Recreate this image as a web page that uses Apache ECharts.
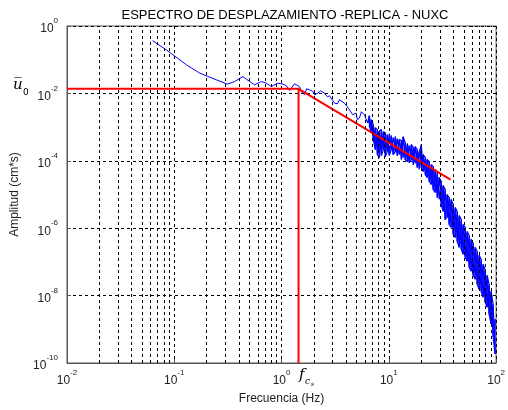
<!DOCTYPE html>
<html>
<head>
<meta charset="utf-8">
<script src="https://cdn.jsdelivr.net/npm/echarts@6/dist/echarts.min.js"></script>
<style>
  html, body { margin: 0; padding: 0; background: #fff; }
  #chart { width: 508px; height: 410px; }
</style>
</head>
<body>
<div id="chart"></div>
<script>
// Espectro de desplazamiento (replica, estacion NUXC)
var titleText = "ESPECTRO DE DESPLAZAMIENTO -REPLICA - NUXC";
var xName = "Frecuencia (Hz)";
var yName = "Amplitud (cm*s)";

// tramo suave / poco ruidoso del espectro (Hz, cm*s)
var freqLow = [0.0627, 0.0846, 0.130, 0.173, 0.199, 0.247, 0.313, 0.365, 0.436, 0.504,
  0.561, 0.647, 0.721, 0.802, 0.924, 1.03, 1.11, 1.19, 1.24, 1.32,
  1.38, 1.47, 1.53, 1.64, 1.71, 1.82, 1.96, 2.03, 2.18, 2.31,
  2.51, 2.68, 2.80, 2.92, 3.11, 3.32, 3.46, 3.61, 3.85, 4.11,
  4.29, 4.61, 4.95, 5.09, 5.32, 5.55, 5.92, 6.14, 6.35];
var ampLow = [0.367, 0.195, 0.0702, 0.0399, 0.0332, 0.0253, 0.0188, 0.0225, 0.0316, 0.0225,
  0.0180, 0.0225, 0.0202, 0.0160, 0.0202, 0.0188, 0.0168, 0.0122, 0.0147, 0.0192,
  0.0180, 0.0160, 0.0112, 0.0091, 0.0137, 0.0128, 0.0114, 0.0091, 0.0102, 0.0119,
  0.0102, 0.0079, 0.0085, 0.0097, 0.00516, 0.00492, 0.00647, 0.00692, 0.00516, 0.00401,
  0.00367, 0.00233, 0.00261, 0.00166, 0.00186, 0.00286, 0.00233, 0.00261, 0.00132];

// tramo ruidoso: picos superior e inferior en cada frecuencia
var freqHigh = [6.59, 6.88, 7.17, 7.49, 7.82, 8.16, 8.52, 8.89, 9.28, 9.68,
  10.1, 10.55, 11.0, 11.5, 12.0, 12.5, 13.1, 13.6, 14.2, 14.9,
  15.5, 16.2, 16.9, 17.6, 18.4, 19.2, 20.1, 20.9, 21.9, 22.8,
  23.8, 24.9, 25.9, 27.1, 28.3, 29.5, 30.8, 32.1, 33.5, 35.0,
  36.5, 38.1, 39.8, 41.6, 43.4, 45.3, 47.3, 49.3, 51.5, 53.7,
  56.1, 58.5, 61.1, 63.8, 66.6, 69.5, 72.5, 75.7, 79.0, 82.5,
  86.1, 89.8, 93.8, 97.9];
var ampHighTop = [2.17e-3, 1.66e-3, 1.18e-3, 9.6e-4, 8.4e-4, 7.8e-4, 8.4e-4, 7.3e-4, 6.8e-4, 5.96e-4,
  6.4e-4, 5.57e-4, 4.86e-4, 5.2e-4, 4.54e-4, 4.24e-4, 3.96e-4, 5.2e-4, 3.45e-4, 3.23e-4,
  2.82e-4, 3.01e-4, 2.46e-4, 2.63e-4, 2.14e-4, 1.87e-4, 3.01e-4, 1.53e-4, 1.24e-4, 1.09e-4,
  9.5e-5, 7.7e-5, 6.7e-5, 5.5e-5, 4.5e-5, 3.18e-5, 2.43e-5, 1.85e-5, 1.41e-5, 1.0e-5,
  8.1e-6, 7.1e-6, 5.06e-6, 4.12e-6, 3.14e-6, 2.39e-6, 1.82e-6, 1.29e-6, 1.06e-6, 8.0e-7,
  6.1e-7, 4.67e-7, 3.55e-7, 2.7e-7, 2.06e-7, 1.57e-7, 1.19e-7, 8.5e-8, 6.0e-8, 4.0e-8,
  2.17e-8, 1.35e-8, 5.6e-9, 2.0e-9];
var ampHighBottom = [1.03e-3, 6.8e-4, 4.24e-4, 2.14e-4, 1.53e-4, 1.24e-4, 1.43e-4, 2.14e-4, 1.33e-4, 1.87e-4,
  1.43e-4, 2.14e-4, 1.53e-4, 1.87e-4, 1.43e-4, 1.53e-4, 1.09e-4, 1.24e-4, 1.09e-4, 9.5e-5,
  8.85e-5, 1.09e-4, 7.7e-5, 8.3e-5, 6.3e-5, 5.5e-5, 6.3e-5, 4.8e-5, 3.9e-5, 3.18e-5,
  2.43e-5, 1.98e-5, 1.41e-5, 1.15e-5, 8.1e-6, 7.1e-6, 5.06e-6, 3.14e-6, 1.82e-6, 2.09e-6,
  1.29e-6, 1.06e-6, 6.6e-7, 5.3e-7, 4.07e-7, 2.7e-7, 2.36e-7, 1.68e-7, 1.37e-7, 1.04e-7,
  6.9e-8, 5.3e-8, 4.0e-8, 3.05e-8, 2.17e-8, 1.55e-8, 1.35e-8, 8.97e-9, 6.4e-9, 4.5e-9,
  2.8e-9, 1.43e-9, 5.9e-10, 1.85e-10];

// modelo de Brune: nivel plano u0, frecuencia de esquina fc, caida
var u0 = 0.0137;
var fc = 1.44;
var fallEnd = [37.6, 2.78e-5];

var xMin = 0.01, xMax = 100;
var yMin = 1e-10, yMax = 1;
var minorMult = [2, 3, 4, 5, 6, 7, 8, 9];
var decades = [0.01, 0.1, 1, 10];

var lowPart = [];
for (var i = 0; i < freqLow.length; i++) lowPart.push([freqLow[i], ampLow[i]]);
var highPart = [lowPart[lowPart.length - 1]];
for (var j = 0; j < freqHigh.length; j++) {
  if (j % 2 === 0) {
    highPart.push([freqHigh[j], ampHighTop[j]]);
    highPart.push([freqHigh[j], ampHighBottom[j]]);
  } else {
    highPart.push([freqHigh[j], ampHighBottom[j]]);
    highPart.push([freqHigh[j], ampHighTop[j]]);
  }
}
var zigzag = [lowPart[lowPart.length - 1]];
for (var k = 0; k < freqHigh.length; k++) {
  zigzag.push([freqHigh[k], k % 2 === 0 ? ampHighTop[k] : ampHighBottom[k]]);
}
var zigzag2 = [];
for (var q = 0; q < freqHigh.length; q++) {
  zigzag2.push([freqHigh[q], q % 2 === 0 ? ampHighBottom[q] : ampHighTop[q]]);
}

var gridLines = [];
decades.forEach(function (d) {
  minorMult.forEach(function (m) { gridLines.push({ xAxis: d * m }); });
});

var font = "Liberation Sans, Arial, sans-serif";
var expLabel = function (v) {
  var e = Math.round(Math.log10(v));
  return "{b|10}{s|" + e + "}";
};
var richExp = {
  b: { fontSize: 12, fontFamily: font, color: "#222", verticalAlign: "bottom", lineHeight: 18 },
  s: { fontSize: 8, fontFamily: font, color: "#222", verticalAlign: "top", lineHeight: 18 }
};
var blueLine = function (name, data, w) {
  return {
    name: name, type: "line", data: data, showSymbol: false, z: 3, silent: true,
    lineStyle: { color: "#0000ff", width: w }
  };
};

var chart = echarts.init(document.getElementById("chart"), null, { renderer: "canvas" });
chart.setOption({
  animation: false,
  backgroundColor: "#fff",
  title: {
    text: titleText,
    left: 280, top: 4, textAlign: "center",
    textStyle: { fontSize: 13, fontWeight: "normal", color: "#000", fontFamily: font }
  },
  grid: {
    left: 67, top: 26, right: 11, bottom: 46,
    show: true, borderColor: "#555", borderWidth: 1, backgroundColor: "#fff"
  },
  xAxis: {
    type: "log", logBase: 10, min: xMin, max: xMax,
    name: xName, nameLocation: "middle", nameGap: 30,
    nameTextStyle: { fontSize: 12, color: "#222", fontFamily: font },
    axisLine: { lineStyle: { color: "#555" } },
    axisTick: { inside: true, length: 4, lineStyle: { color: "#555" } },
    axisLabel: { formatter: expLabel, rich: richExp, margin: 6 },
    splitLine: { show: true, lineStyle: { color: "#000", type: [3, 3], width: 1 } }
  },
  yAxis: {
    type: "log", logBase: 100, min: yMin, max: yMax,
    name: yName, nameLocation: "middle", nameGap: 46, nameRotate: 90,
    nameTextStyle: { fontSize: 12, color: "#222", fontFamily: font },
    axisLine: { lineStyle: { color: "#555" } },
    axisTick: { inside: true, length: 4, lineStyle: { color: "#555" } },
    axisLabel: { formatter: expLabel, rich: richExp, margin: 9 },
    splitLine: { show: true, lineStyle: { color: "#000", type: [3, 3], width: 1 } }
  },
  series: [
    {
      type: "line", data: [], silent: true, z: 1,
      markLine: {
        silent: true, symbol: "none", label: { show: false },
        lineStyle: { color: "#000", type: [3, 3], width: 1 },
        data: gridLines
      }
    },
    blueLine("espectro", lowPart, 1),
    blueLine("espectro", highPart, 1.2),
    blueLine("espectro", zigzag, 1.2),
    blueLine("espectro", zigzag2, 1.2),
    {
      name: "modelo", type: "line", showSymbol: false, z: 4,
      data: [[xMin, u0], [fc, u0], fallEnd],
      lineStyle: { color: "#ff0000", width: 2 }
    },
    {
      name: "fc", type: "line", showSymbol: false, z: 4,
      data: [[fc, yMin], [fc, u0]],
      lineStyle: { color: "#ff0000", width: 2 }
    }
  ],
  graphic: [
    {
      type: "text", left: 13, top: 78, z: 10,
      style: { text: "u\u0305", font: "italic 15px 'DejaVu Serif', serif", fill: "#000" }
    },
    {
      type: "text", left: 23, top: 88, z: 10,
      style: { text: "0", font: "9px 'DejaVu Sans', sans-serif", fill: "#000" }
    },
    {
      type: "text", left: 299, top: 368, z: 10,
      style: { text: "f", font: "italic 15px 'DejaVu Serif', serif", fill: "#000" }
    },
    {
      type: "text", left: 305, top: 377, z: 10,
      style: { text: "c", font: "italic 9px 'DejaVu Serif', serif", fill: "#000" }
    },
    {
      type: "text", left: 311, top: 381, z: 10,
      style: { text: "s", font: "italic 6px 'DejaVu Serif', serif", fill: "#000" }
    }
  ]
});
</script>
</body>
</html>
